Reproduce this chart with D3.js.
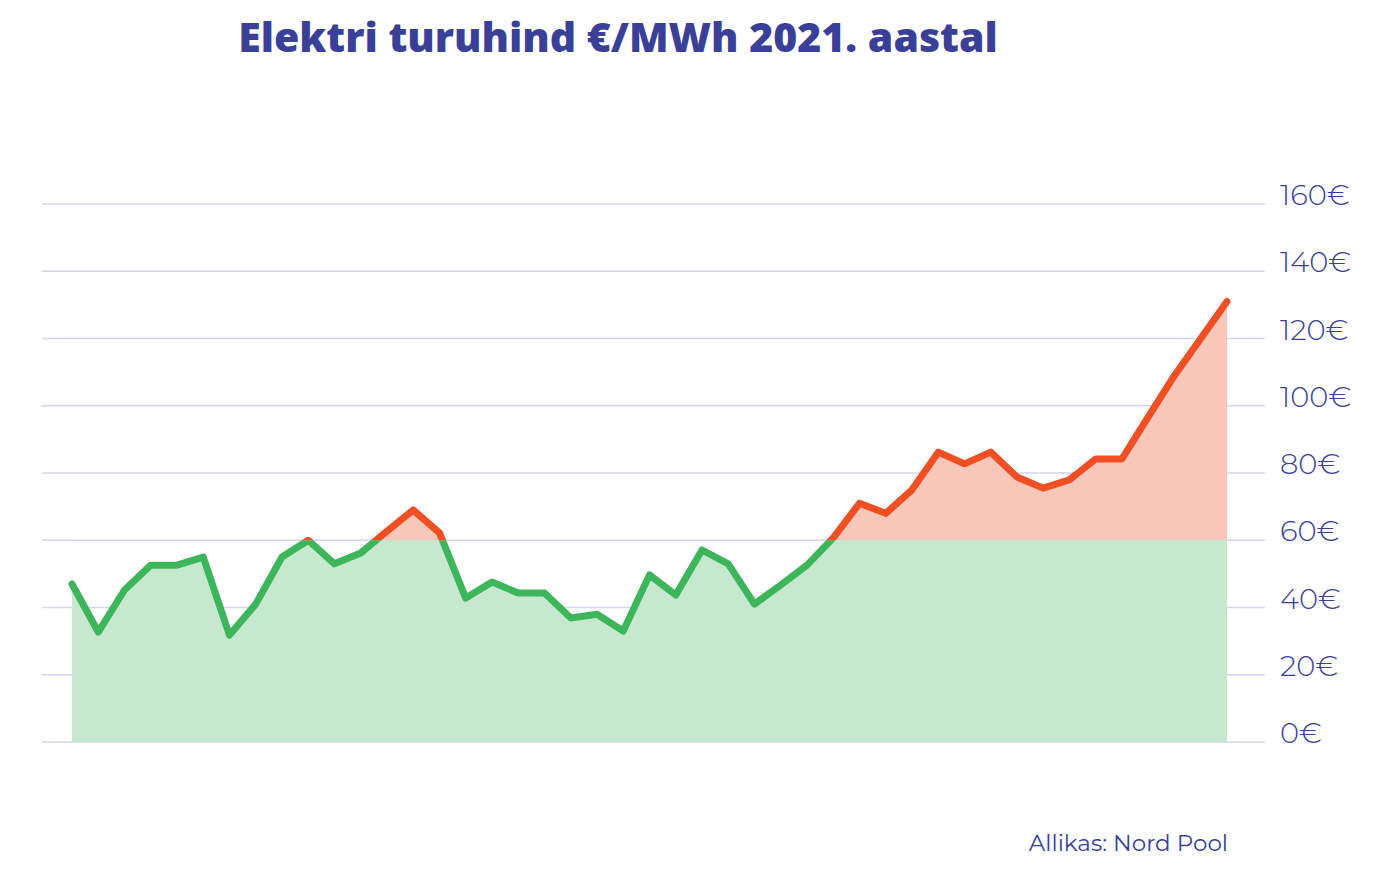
<!DOCTYPE html>
<html><head><meta charset="utf-8">
<script src="https://cdn.jsdelivr.net/npm/d3@7"></script>
<style>body{margin:0;background:#fff}svg{display:block}</style>
</head><body>
<svg id="c" width="1400" height="884"></svg>
<script>
const weeks = [1,2,3,4,5,6,7,8,9,10,11,12,13,14,15,16,17,18,19,20,21,22,23,24,25,26,27,28,29,30,31,32,33,34,35,36,37,38,39,40,41,42,43,45];
const prices = [47,32.7,45.2,52.6,52.6,55,31.8,41,55,60,53,56.2,62.7,69,62.2,42.8,47.6,44.3,44.3,36.9,38,33,49.7,43.7,57.1,53,41,46.7,52.6,60.7,71,68,75,86.2,82.7,86.2,78.8,75.5,78,84.2,84.2,96.7,109,131];
const yTicks = [0,20,40,60,80,100,120,140,160];
const threshold = 60;
const data = weeks.map((w,i)=>({w,v:prices[i]}));

const svg = d3.select("#c");
const x = d3.scaleLinear().domain([1,45]).range([72,1227]);
const y = d3.scaleLinear().domain([0,160]).range([742,204]);
const blue = "#3a3f98";

svg.append("text").attr("x",618).attr("y",52).attr("text-anchor","middle")
  .attr("font-family","Open Sans").attr("font-weight",800).attr("font-size",41)
  .attr("fill",blue).text("Elektri turuhind €/MWh 2021. aastal");

const g = svg.append("g");
g.selectAll("line.grid").data(yTicks).join("line")
  .attr("x1",42).attr("x2",1265).attr("y1",d=>y(d)).attr("y2",d=>y(d))
  .attr("stroke","#d4d4ec").attr("stroke-width",1.5);
g.selectAll("text.tick").data(yTicks).join("text")
  .attr("x",1280).attr("y",d=>y(d)+1).attr("font-family","Montserrat, Lato").attr("font-weight",300)
  .attr("font-size",29).attr("fill",blue).text(d=>d+"€");

const defs = svg.append("defs");
defs.append("clipPath").attr("id","below").append("rect")
  .attr("x",0).attr("y",y(threshold)).attr("width",1400).attr("height",884);
defs.append("clipPath").attr("id","above").append("rect")
  .attr("x",0).attr("y",0).attr("width",1400).attr("height",y(threshold));

const areaLow = d3.area().x(d=>x(d.w)).y0(y(0)).y1(d=>y(d.v));
const areaHigh = d3.area().x(d=>x(d.w)).y0(y(threshold)).y1(d=>y(d.v));
const line = d3.line().x(d=>x(d.w)).y(d=>y(d.v));

svg.append("path").datum(data).attr("d",areaLow).attr("fill","#c5e8cf").attr("clip-path","url(#below)");
svg.append("path").datum(data).attr("d",areaHigh).attr("fill","#f8c7ba").attr("clip-path","url(#above)");
svg.append("path").datum(data).attr("d",line).attr("fill","none").attr("stroke","#3db65b")
  .attr("stroke-width",7).attr("stroke-linejoin","round").attr("stroke-linecap","round").attr("clip-path","url(#below)");
svg.append("path").datum(data).attr("d",line).attr("fill","none").attr("stroke","#f04e23")
  .attr("stroke-width",7).attr("stroke-linejoin","round").attr("stroke-linecap","round").attr("clip-path","url(#above)");

svg.append("text").attr("x",1228).attr("y",851).attr("text-anchor","end")
  .attr("font-family","Montserrat, Lato").attr("font-size",23).attr("fill",blue).text("Allikas: Nord Pool");
</script>
</body></html>
